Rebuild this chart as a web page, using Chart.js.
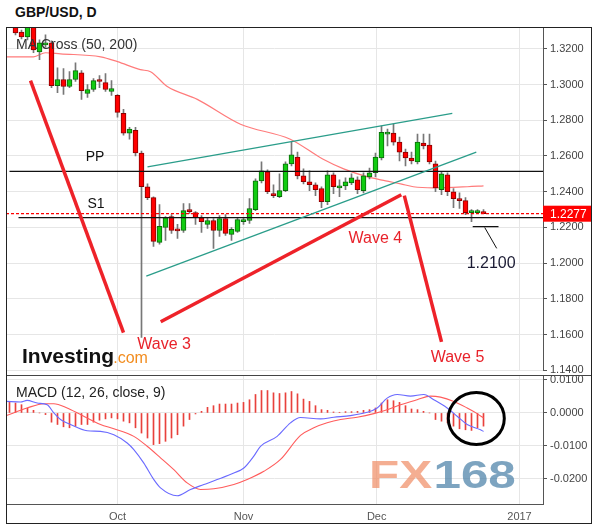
<!DOCTYPE html>
<html>
<head>
<meta charset="utf-8">
<script src="https://cdn.jsdelivr.net/npm/chart.js@4.4.1/dist/chart.umd.min.js"></script>
<style>
  body { margin: 0; background: #fff; font-family: Arial, "Liberation Sans", sans-serif; }
  #title { position: absolute; left: 15px; top: 4px; font-weight: bold; font-size: 14px; color: #111; }
  #frame { position: absolute; left: 6px; top: 27px; width: 586px; height: 497px; border: 1px solid #222; box-sizing: border-box; pointer-events: none; }
  #sep { position: absolute; left: 6px; top: 375px; width: 586px; height: 1px; background: #444; }
  #main { position: absolute; left: 0; top: 0; }
  #macd { position: absolute; left: 0; top: 366px; }
</style>
</head>
<body>
<div id="title">GBP/USD, D</div>
<canvas id="main" width="598" height="380" style="width:598px;height:380px"></canvas>
<canvas id="macd" width="598" height="162" style="width:598px;height:162px"></canvas>
<div id="sep"></div>
<div id="frame"></div>
<script>
// candles, one per trading day (x = day index)
const candleOpen = [1.3333,1.3294,1.3266,1.3328,1.3183,1.3222,1.3233,1.2994,1.3028,1.2989,
  1.3028,1.3066,1.2950,1.2972,1.3022,1.3011,1.2961,1.2939,1.2839,1.2728,
  1.2744,1.2617,1.2428,1.2367,1.2117,1.2200,1.2261,1.2186,1.2183,1.2300,
  1.2283,1.2255,1.2217,1.2239,1.2183,1.2250,1.2161,1.2178,1.2233,1.2239,
  1.2300,1.2461,1.2511,1.2389,1.2372,1.2406,1.2556,1.2594,1.2489,1.2456,
  1.2439,1.2417,1.2344,1.2494,1.2422,1.2433,1.2450,1.2467,1.2406,1.2483,
  1.2506,1.2589,1.2722,1.2728,1.2678,1.2622,1.2589,1.2567,1.2672,1.2661,
  1.2556,1.2411,1.2494,1.2400,1.2361,1.2350,1.2283,1.2283,1.2289];
const candleHigh = [1.3350,1.3305,1.3350,1.3333,1.3250,1.3278,1.3244,1.3094,1.3089,1.3072,
  1.3122,1.3078,1.3000,1.3033,1.3050,1.3061,1.3022,1.2944,1.2861,1.2761,
  1.2761,1.2628,1.2444,1.2372,1.2328,1.2261,1.2272,1.2217,1.2333,1.2333,
  1.2289,1.2267,1.2255,1.2250,1.2267,1.2272,1.2200,1.2255,1.2255,1.2361,
  1.2472,1.2567,1.2522,1.2439,1.2500,1.2567,1.2678,1.2622,1.2528,1.2517,
  1.2450,1.2428,1.2517,1.2506,1.2467,1.2478,1.2500,1.2483,1.2506,1.2533,
  1.2617,1.2767,1.2750,1.2778,1.2706,1.2639,1.2622,1.2722,1.2722,1.2722,
  1.2572,1.2511,1.2506,1.2417,1.2394,1.2367,1.2300,1.2300,1.2300];
const candleLow = [1.3278,1.3255,1.3250,1.3178,1.3139,1.3211,1.2983,1.2955,1.2944,1.2983,
  1.3017,1.2917,1.2928,1.2961,1.2983,1.2961,1.2939,1.2817,1.2717,1.2694,
  1.2600,1.1585,1.2356,1.2094,1.2106,1.2128,1.2167,1.2139,1.2172,1.2278,
  1.2217,1.2172,1.2194,1.2083,1.2150,1.2156,1.2128,1.2172,1.2217,1.2222,
  1.2294,1.2450,1.2389,1.2367,1.2367,1.2400,1.2544,1.2472,1.2444,1.2406,
  1.2378,1.2311,1.2328,1.2389,1.2372,1.2411,1.2439,1.2389,1.2394,1.2472,
  1.2483,1.2578,1.2656,1.2661,1.2572,1.2544,1.2556,1.2556,1.2639,1.2556,
  1.2400,1.2383,1.2378,1.2311,1.2306,1.2272,1.2233,1.2278,1.2277];
const candleClose = [1.3289,1.3266,1.3328,1.3194,1.3233,1.3233,1.2994,1.3028,1.2989,1.3028,
  1.3078,1.2966,1.2972,1.3022,1.3017,1.2972,1.2978,1.2844,1.2728,1.2750,
  1.2617,1.2428,1.2367,1.2122,1.2206,1.2255,1.2183,1.2181,1.2294,1.2289,
  1.2255,1.2233,1.2239,1.2183,1.2250,1.2167,1.2189,1.2244,1.2239,1.2306,
  1.2461,1.2517,1.2400,1.2378,1.2406,1.2556,1.2606,1.2489,1.2456,1.2439,
  1.2411,1.2344,1.2494,1.2428,1.2433,1.2456,1.2478,1.2411,1.2489,1.2506,
  1.2594,1.2733,1.2728,1.2678,1.2622,1.2589,1.2572,1.2678,1.2656,1.2567,
  1.2422,1.2500,1.2400,1.2361,1.2350,1.2283,1.2294,1.2289,1.2277];

// moving average (sampled along the curve)
const maIdx = [-1.5,3,5,7.5,14.2,17,20.8,22.5,25.3,30.3,37.5,45.8,51.2,54.7,58.7,61.7,64.2,66.3,69.7,75.3,78];
const maVal = [1.3155,1.3155,1.3178,1.3172,1.3155,1.3128,1.3083,1.3072,1.2989,1.2917,1.2778,1.2694,1.2583,1.2528,1.2483,1.2461,1.2444,1.2428,1.2422,1.2428,1.2433];

// levels
const ppLevel = 1.2514;
const s1Level = 1.2255;
const lastPrice = 1.2277;
const targetLevel = 1.2205;

// MACD panel
const histStart = -1;
const histVal = [0.0035,0.0030,0.0025,0.0015,0.0008,0.0,-0.0005,-0.0028,-0.0035,-0.0042,
  -0.0045,-0.0040,-0.0035,-0.0035,-0.0028,-0.0022,-0.0018,-0.0015,-0.0018,-0.0025,
  -0.0030,-0.0045,-0.0061,-0.0076,-0.0096,-0.0093,-0.0086,-0.0076,-0.0066,-0.0040,
  -0.0020,-0.0003,0.0005,0.0017,0.0022,0.0027,0.0027,0.0027,0.0030,0.0032,
  0.0040,0.0056,0.0068,0.0068,0.0061,0.0059,0.0061,0.0065,0.0058,0.0042,
  0.0035,0.0022,0.0010,0.0008,0.0003,0.0002,0.0004,0.0004,0.0005,0.0008,
  0.0010,0.0015,0.0030,0.0040,0.0037,0.0032,0.0022,0.0012,0.0010,0.0005,
  0.0,-0.0020,-0.0025,-0.0030,-0.0040,-0.0048,-0.0051,-0.0053,-0.0045,-0.0040];
const macdIdx = [-1.5,0.83,1.94,3.61,5.28,6.39,7.5,9.17,11.94,14.17,16.39,18.61,19.72,21.39,23.06,24.17,26.94,29.17,31.39,33.61,36.39,38.06,39.72,40.83,43.61,45.83,47.5,50.83,53.06,55.83,58.61,60.28,61.94,63.61,65.83,68.06,69.72,71.94,73.61,75.28,77.5,78];
const macdVal = [0.0035,0.0033,0.0038,0.0030,0.0025,0.0,-0.0020,-0.0035,-0.0054,-0.0056,-0.0066,-0.0091,-0.0111,-0.0152,-0.0202,-0.0227,-0.0251,-0.0232,-0.0217,-0.0202,-0.0182,-0.0167,-0.0131,-0.0101,-0.0071,-0.0030,-0.0014,-0.0018,-0.0013,-0.0008,0.0002,0.0015,0.0045,0.0056,0.0051,0.0056,0.0040,0.0015,-0.0010,-0.0035,-0.0051,-0.0056];
const sigIdx = [-1.5,1.94,4.72,6.39,8.61,10.83,14.17,16.39,19.72,21.94,24.17,26.39,28.61,30.83,33.06,36.39,38.61,41.39,44.17,47.5,49.72,51.94,54.17,56.94,59.72,61.94,64.17,66.94,69.17,70.83,73.06,75.28,76.94,78];
const sigVal = [-0.0008,0.0015,0.0028,0.0028,0.0015,-0.0005,-0.0035,-0.0048,-0.0071,-0.0101,-0.0136,-0.0172,-0.0212,-0.0232,-0.0230,-0.0217,-0.0202,-0.0177,-0.0141,-0.0068,-0.0045,-0.0030,-0.0020,-0.0013,-0.0002,0.0010,0.0025,0.0040,0.0051,0.0048,0.0035,0.0015,-0.0002,-0.0015];

// axis ticks
const monthLabels = ['Oct', 'Nov', 'Dec', '2017'];
const monthIdx = [17, 38, 60.2, 84];
const priceTicks = [1.14, 1.16, 1.18, 1.20, 1.22, 1.24, 1.26, 1.28, 1.30, 1.32];
const macdTicks = [-0.02, -0.01, 0, 0.01];

// range chosen so each day lands on a pixel centre (6px per day)
const xMin = -1.5833, xMax = 87.9167;
const GRID = '#e6e6e6';
const FONT = 'Arial, "Liberation Sans", sans-serif';

function seg(x1, y1, x2, y2, color, width, dash) {
  return {
    type: 'line', data: [{x: x1, y: y1}, {x: x2, y: y2}],
    borderColor: color, borderWidth: width, borderDash: dash || [],
    pointRadius: 0, order: 0
  };
}

// annotations in data coordinates
const notes = [
  {t: 'PP', x: 11.7, y: 1.2594, c: '#111', f: '14px'},
  {t: 'S1', x: 12, y: 1.2333, c: '#111', f: '14px'},
  {t: 'Wave 3', x: 20.3, y: 1.1544, c: '#e8232b', f: '16px'},
  {t: 'Wave 4', x: 55.5, y: 1.2139, c: '#e8232b', f: '16px'},
  {t: 'Wave 5', x: 69.2, y: 1.1472, c: '#e8232b', f: '16px'},
  {t: '1.2100', x: 75.2, y: 1.2000, c: '#1a1a33', f: '16px'}
];

const mainPlugin = {
  id: 'mainDecor',
  afterDatasetsDraw(chart) {
    const ctx = chart.ctx, a = chart.chartArea, xs = chart.scales.x, ys = chart.scales.y;
    ctx.save();
    ctx.textBaseline = 'middle';
    ctx.fillStyle = '#333';
    ctx.font = '14px ' + FONT;
    ctx.fillText('MA Cross (50, 200)', a.left + 10, a.top + 18);
    notes.forEach(n => {
      ctx.fillStyle = n.c;
      ctx.font = n.f + ' ' + FONT;
      ctx.fillText(n.t, xs.getPixelForValue(n.x), ys.getPixelForValue(n.y));
    });
    // Investing.com logo
    ctx.textBaseline = 'alphabetic';
    ctx.font = 'bold 21px ' + FONT;
    ctx.fillStyle = '#111';
    ctx.fillText('Investing', a.left + 16, a.bottom - 7);
    const w = ctx.measureText('Investing').width;
    ctx.font = '16px ' + FONT;
    ctx.fillStyle = '#f28c1e';
    ctx.fillText('.com', a.left + 15 + w, a.bottom - 7);
    ctx.restore();
  },
  afterDraw(chart) {
    const ctx = chart.ctx, a = chart.chartArea, ys = chart.scales.y;
    const y = ys.getPixelForValue(lastPrice);
    ctx.save();
    ctx.fillStyle = '#ff0000';
    ctx.fillRect(a.right, y - 8, 48, 16);
    ctx.fillStyle = '#fff';
    ctx.font = '12px ' + FONT;
    ctx.textBaseline = 'middle';
    ctx.fillText(lastPrice.toFixed(4), a.right + 7, y + 0.5);
    ctx.restore();
  }
};

const up = candleClose.map((c, i) => c >= candleOpen[i]);

new Chart(document.getElementById('main'), {
  type: 'bar',
  data: {
    datasets: [
      seg(2.5, 1.3022, 18, 1.1611, '#ee2229', 3.5),
      seg(24.2, 1.1672, 64.3, 1.2383, '#ee2229', 3.5),
      seg(64.8, 1.2378, 71, 1.1560, '#ee2229', 3.5),
      seg(22, 1.2539, 72.8, 1.2839, '#2a9d8a', 1.3),
      seg(21.8, 1.1928, 76.8, 1.2622, '#2a9d8a', 1.3),
      seg(-1, ppLevel, xMax, ppLevel, '#111', 1.3),
      seg(0.5, s1Level, xMax, s1Level, '#111', 1.3),
      seg(xMin, lastPrice, xMax, lastPrice, '#ff0000', 1.2, [3, 2]),
      seg(76.2, targetLevel, 80.5, targetLevel, '#111', 1.3),
      seg(78.2, 1.2200, 80.2, 1.2083, '#111', 1),
      {
        type: 'bar', order: 1,
        data: candleClose.map((c, i) => ({x: i, y: [candleOpen[i], c]})),
        backgroundColor: up.map(u => u ? '#11cc11' : '#ff0000'),
        borderColor: up.map(u => u ? '#0a6a0a' : '#8a0000'),
        borderWidth: 1, borderSkipped: false, barThickness: 5, minBarLength: 2, grouped: false
      },
      {
        type: 'bar', order: 2,
        data: candleHigh.map((h, i) => ({x: i, y: [candleLow[i], h]})),
        backgroundColor: '#777', barThickness: 1, grouped: false
      },
      {
        type: 'line', order: 3,
        data: maIdx.map((x, i) => ({x: x, y: maVal[i]})),
        borderColor: '#ff7b7b', borderWidth: 1.2, pointRadius: 0, cubicInterpolationMode: 'monotone'
      }
    ]
  },
  options: {
    responsive: false,
    animation: false,
    layout: {padding: {left: 6, top: 27, right: 7, bottom: 8}},
    plugins: {legend: {display: false}, tooltip: {enabled: false}},
    scales: {
      x: {
        type: 'linear', min: xMin, max: xMax, offset: false,
        grid: {color: GRID, drawTicks: false, offset: false},
        border: {display: false},
        ticks: {display: false},
        afterBuildTicks: s => { s.ticks = monthIdx.map(v => ({value: v})); },
        afterFit: s => { s.height = 0; }
      },
      y: {
        position: 'right', min: 1.14, max: 1.3322,
        grid: {color: GRID, tickColor: '#555', tickLength: 4},
        border: {display: true, color: '#555'},
        ticks: {color: '#444', font: {size: 11, family: FONT}, padding: 3, callback: v => v.toFixed(4)},
        afterBuildTicks: s => { s.ticks = priceTicks.map(v => ({value: v})); },
        afterFit: s => { s.width = 48; }
      }
    }
  },
  plugins: [mainPlugin]
});

const macdPlugin = {
  id: 'macdDecor',
  beforeDatasetsDraw(chart) {
    const ctx = chart.ctx;
    ctx.save();
    ctx.font = 'bold 38px ' + FONT;
    ctx.translate(369, 122);
    ctx.scale(1.3, 1);
    ctx.fillStyle = 'rgba(240,140,100,0.7)';
    ctx.fillText('FX', 0, 0);
    const w = ctx.measureText('FX').width;
    ctx.fillStyle = 'rgba(70,125,165,0.7)';
    ctx.fillText('168', w + 1, 0);
    ctx.restore();
  },
  afterDatasetsDraw(chart) {
    const ctx = chart.ctx, a = chart.chartArea, xs = chart.scales.x, ys = chart.scales.y;
    ctx.save();
    ctx.fillStyle = '#222';
    ctx.font = '14px ' + FONT;
    ctx.textBaseline = 'middle';
    ctx.fillText('MACD (12, 26, close, 9)', a.left + 10, a.top + 17);
    ctx.strokeStyle = '#000';
    ctx.lineWidth = 3;
    ctx.beginPath();
    ctx.ellipse(xs.getPixelForValue(76.8), ys.getPixelForValue(-0.0017), 28, 26, 0, 0, Math.PI * 2);
    ctx.stroke();
    ctx.restore();
  }
};

new Chart(document.getElementById('macd'), {
  type: 'bar',
  data: {
    datasets: [
      {
        type: 'line', order: 0,
        data: macdIdx.map((x, i) => ({x: x, y: macdVal[i]})),
        borderColor: '#6a6aff', borderWidth: 1.1, pointRadius: 0, cubicInterpolationMode: 'monotone'
      },
      {
        type: 'line', order: 0,
        data: sigIdx.map((x, i) => ({x: x, y: sigVal[i]})),
        borderColor: '#ff5c5c', borderWidth: 1.1, pointRadius: 0, cubicInterpolationMode: 'monotone'
      },
      {
        type: 'bar', order: 1,
        data: histVal.map((v, i) => ({x: histStart + i, y: v})),
        backgroundColor: '#e8413c', barThickness: 1, grouped: false
      }
    ]
  },
  options: {
    responsive: false,
    animation: false,
    layout: {padding: {left: 6, top: 10, right: 7, bottom: 6}},
    plugins: {legend: {display: false}, tooltip: {enabled: false}},
    scales: {
      x: {
        type: 'linear', min: xMin, max: xMax, offset: false,
        grid: {color: GRID, drawTicks: false, offset: false},
        border: {display: true, color: '#555'},
        ticks: {color: '#555', font: {size: 11, family: FONT}, padding: 6, maxRotation: 0,
          callback: v => { const k = monthIdx.indexOf(v); return k >= 0 ? monthLabels[k] : ''; }},
        afterBuildTicks: s => { s.ticks = monthIdx.map(v => ({value: v})); },
        afterFit: s => { s.height = 18; }
      },
      y: {
        position: 'right', min: -0.0276, max: 0.0112,
        grid: {color: GRID, tickColor: '#555', tickLength: 4},
        border: {display: true, color: '#555'},
        ticks: {color: '#444', font: {size: 11, family: FONT}, padding: 3, callback: v => v.toFixed(4)},
        afterBuildTicks: s => { s.ticks = macdTicks.map(v => ({value: v})); },
        afterFit: s => { s.width = 48; }
      }
    }
  },
  plugins: [macdPlugin]
});
</script>
</body>
</html>
